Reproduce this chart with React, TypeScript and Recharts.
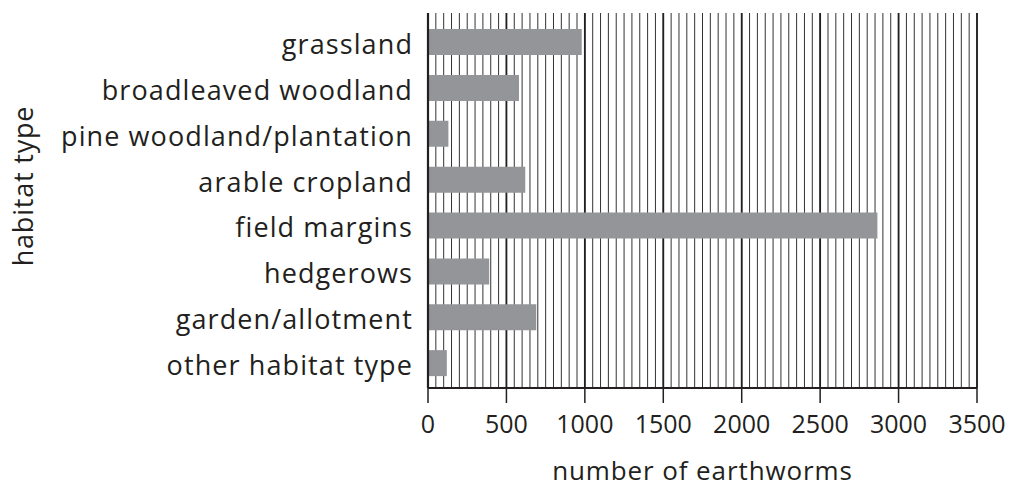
import { Bar, BarChart, CartesianGrid, Label, XAxis, YAxis } from "recharts";

const HABITATS = [
  "grassland",
  "broadleaved woodland",
  "pine woodland/plantation",
  "arable cropland",
  "field margins",
  "hedgerows",
  "garden/allotment",
  "other habitat type",
];
const EARTHWORMS = [980, 580, 130, 620, 2865, 390, 690, 120];
const MAJOR_TICKS = [0, 500, 1000, 1500, 2000, 2500, 3000, 3500];
const MINOR_TICKS = Array.from({ length: 71 }, (_, i) => i * 50);

const INK = "#231f20";
const FONT = "'Open Sans', sans-serif";
const X_MAX = 3500;

const data = HABITATS.map((name, i) => ({ name, count: EARTHWORMS[i] }));

// minor grid every 50 worms, placed with the axis scale
function minorGrid({ xAxis, offset }: any): number[] {
  const scale = xAxis?.scale;
  return MINOR_TICKS.map((v) => {
    if (typeof scale === "function") return scale(v);
    if (scale && typeof scale.map === "function") return scale.map(v);
    return offset.left + (v / X_MAX) * offset.width;
  });
}

function HabitatTick({ x, y, payload }: any) {
  return (
    <text
      x={x}
      y={y + 12}
      textAnchor="end"
      style={{ fontSize: 27, fill: INK, fontFamily: FONT, letterSpacing: 1.1 }}
    >
      {payload.value}
    </text>
  );
}

export default function App() {
  return (
    <div style={{ position: "absolute", left: 0, top: 0, background: "#fff" }}>
      <BarChart
        width={1011}
        height={488}
        data={data}
        layout="vertical"
        margin={{ top: 13, right: 34, left: 0, bottom: 0 }}
        barSize={26}
        style={{ fontFamily: FONT }}
      >
        <CartesianGrid
          horizontal={false}
          verticalCoordinatesGenerator={minorGrid}
          stroke="#333335"
          strokeWidth={1}
        />
        <CartesianGrid horizontal={false} stroke={INK} strokeWidth={1.8} />
        <XAxis
          type="number"
          domain={[0, X_MAX]}
          ticks={MAJOR_TICKS}
          interval={0}
          height={100}
          tickSize={15}
          tickMargin={12}
          tickLine={{ stroke: INK, strokeWidth: 1.5 }}
          axisLine={{ stroke: INK, strokeWidth: 2 }}
          tick={{ fontSize: 25, fill: INK, fontFamily: FONT }}
        >
          <Label
            value="number of earthworms"
            position="insideBottom"
            offset={8}
            style={{ fontSize: 26, fill: INK, fontFamily: FONT, letterSpacing: 0.9 }}
          />
        </XAxis>
        <YAxis
          type="category"
          dataKey="name"
          width={428}
          interval={0}
          tickLine={false}
          tickSize={0}
          tickMargin={15}
          padding={{ top: 6, bottom: 2 }}
          axisLine={{ stroke: INK, strokeWidth: 2.2 }}
          tick={<HabitatTick />}
        >
          <Label
            content={() => (
              <text
                x={22}
                y={186}
                transform="rotate(-90 22 186)"
                textAnchor="middle"
                dominantBaseline="central"
                style={{ fontSize: 27, fill: INK, fontFamily: FONT, letterSpacing: 0.8 }}
              >
                habitat type
              </text>
            )}
          />
        </YAxis>
        <Bar dataKey="count" fill="#939598" isAnimationActive={false} />
      </BarChart>
    </div>
  );
}
